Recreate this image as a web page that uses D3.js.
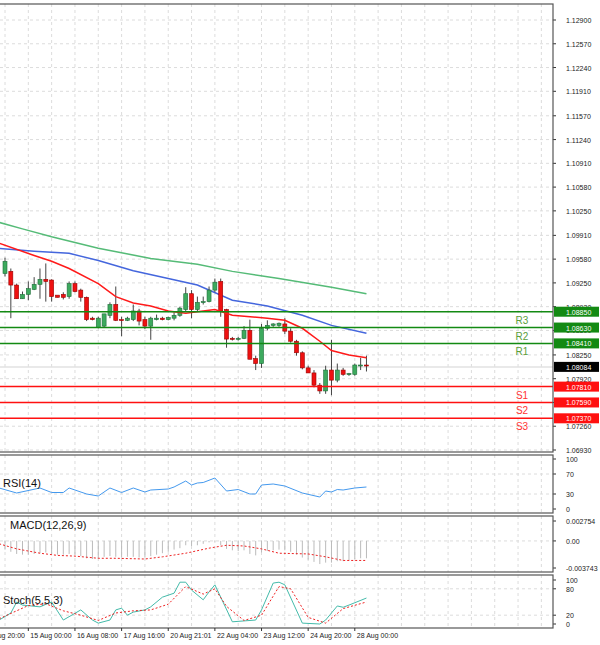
<!DOCTYPE html>
<html>
<head>
<meta charset="utf-8">
<script src="https://cdn.jsdelivr.net/npm/d3@7"></script>
<style>
  body { margin: 0; background: #fff; }
  text { font-family: "Liberation Sans", Arial, sans-serif; }
</style>
</head>
<body>
<script>
// candles (4h)
const open  = [1.0938,1.0941,1.0922,1.0903,1.0909,1.0916,1.0923,1.0930,1.0929,1.0908,1.0909,1.0906,1.0924,1.0915,1.0905,1.0876,1.0863,1.0865,1.0880,1.0895,1.0874,1.0873,1.0874,1.0886,1.0874,1.0865,1.0874,1.0876,1.0874,1.0876,1.0880,1.0888,1.0910,1.0888,1.0898,1.0899,1.0915,1.0927,1.0888,1.0848,1.0847,1.0848,1.0859,1.0820,1.0813,1.0862,1.0866,1.0866,1.0868,1.0858,1.0844,1.0828,1.0807,1.0800,1.0783,1.0775,1.0804,1.0790,1.0804,1.0798,1.0798,1.0811,1.0811];
const close = [1.0955,1.0922,1.0903,1.0909,1.0917,1.0923,1.0930,1.0927,1.0906,1.0905,1.0905,1.0924,1.0913,1.0905,1.0874,1.0874,1.0876,1.0882,1.0895,1.0873,1.0873,1.0876,1.0886,1.0872,1.0865,1.0876,1.0876,1.0874,1.0877,1.0880,1.0890,1.0910,1.0888,1.0898,1.0899,1.0915,1.0926,1.0886,1.0847,1.0847,1.0848,1.0859,1.0819,1.0813,1.0862,1.0866,1.0868,1.0869,1.0858,1.0844,1.0828,1.0807,1.0800,1.0783,1.0775,1.0804,1.0790,1.0804,1.0798,1.0799,1.0811,1.0811,1.0810];
const high  = [1.0960,1.0945,1.0924,1.0913,1.0927,1.0933,1.0945,1.0952,1.0930,1.0906,1.0912,1.0927,1.0927,1.0917,1.0906,1.0878,1.0878,1.0882,1.0898,1.0920,1.0878,1.0878,1.0895,1.0889,1.0878,1.0878,1.0881,1.0878,1.0878,1.0884,1.0892,1.0919,1.0915,1.0906,1.0906,1.0920,1.0931,1.0931,1.0889,1.0850,1.0850,1.0865,1.0874,1.0824,1.0868,1.0873,1.0869,1.0870,1.0876,1.0862,1.0846,1.0830,1.0810,1.0804,1.0786,1.0810,1.0846,1.0813,1.0807,1.0800,1.0813,1.0821,1.0824];
const low   = [1.0934,1.0876,1.0903,1.0903,1.0901,1.0915,1.0903,1.0899,1.0899,1.0905,1.0902,1.0903,1.0912,1.0899,1.0872,1.0873,1.0862,1.0863,1.0876,1.0872,1.0851,1.0872,1.0872,1.0866,1.0861,1.0846,1.0873,1.0873,1.0873,1.0873,1.0878,1.0886,1.0876,1.0886,1.0895,1.0898,1.0912,1.0878,1.0835,1.0845,1.0845,1.0847,1.0819,1.0804,1.0807,1.0859,1.0864,1.0864,1.0854,1.0842,1.0824,1.0805,1.0800,1.0780,1.0771,1.0771,1.0769,1.0787,1.0796,1.0796,1.0796,1.0804,1.0802];

const emaIdx = [-1,5,8,11,16,19,22,25,28,31,35,36,39,45,48,51,54,56,59,62];
const emaVal = [1.0980,1.0963,1.0955,1.0945,1.0924,1.0906,1.0897,1.0893,1.0886,1.0883,1.0887,1.0888,1.0880,1.0876,1.0873,1.0862,1.0844,1.0831,1.0825,1.0821];
const smaIdx = [-1,5,11,16,22,28,33,39,45,51,56,62];
const smaVal = [1.0973,1.0969,1.0966,1.0956,1.0942,1.0931,1.0922,1.0901,1.0893,1.0880,1.0866,1.0855];
const slowIdx = [-1,3,8,16,25,33,39,47,56,62];
const slowVal = [1.1009,1.1000,1.0989,1.0973,1.0959,1.0951,1.0941,1.0931,1.0919,1.0910];

const levelNames = ["R3","R2","R1","S1","S2","S3"];
const levelVals  = [1.08850,1.08630,1.08410,1.07810,1.07590,1.07370];
const lastPrice = 1.08084;
const priceTicks = [1.12900,1.12570,1.12240,1.11910,1.11570,1.11240,1.10910,1.10580,1.10250,1.09910,1.09580,1.09250,1.08920,1.08590,1.08250,1.07920,1.07590,1.07260,1.06930];

const rsiIdx = [-1,2,6,8,10,11,14,16,18,20,22,24,25,28,29,31,32,33,34,36,38,40,42,43,44,46,48,51,54,55,56,57,58,60,62];
const rsiVal = [42,32,42,33,33,42,30,26,42,33,42,34,38,40,44,56,48,52,53,62,36,39,30,30,48,50,46,32,24,36,34,39,38,42,44];

const macdHist = [-0.0012,-0.0015,-0.0018,-0.0019,-0.0019,-0.0018,-0.0017,-0.0016,-0.0018,-0.0019,-0.0019,
  -0.0018,-0.0019,-0.0021,-0.0024,-0.0025,-0.0024,-0.0022,-0.0021,-0.0022,-0.0023,
  -0.0022,-0.0022,-0.0023,-0.0023,-0.0021,-0.0019,-0.0017,-0.0015,-0.0012,-0.0010,
  -0.0006,-0.0007,-0.0006,-0.0004,-0.0002,-0.0001,-0.0006,-0.0011,-0.0013,-0.0014,
  -0.0013,-0.0018,-0.0020,-0.0016,-0.0014,-0.0013,-0.0012,-0.0013,-0.0015,-0.0019,
  -0.0023,-0.0026,-0.0029,-0.0032,-0.0030,-0.0030,-0.0028,-0.0028,-0.0027,-0.0025,-0.0024,-0.0024];
const sigIdx = [-1,2,6,9,12,16,19,24,27,31,35,38,41,44,47,52,55,58,62];
const sigVal = [-0.0004,-0.0011,-0.0017,-0.0020,-0.0021,-0.0024,-0.0024,-0.0025,-0.0022,-0.0017,-0.0010,-0.0006,-0.0007,-0.0011,-0.0017,-0.0018,-0.0022,-0.0027,-0.0027];

const kIdx = [-1,1,2,3,6,8,10,13,15,16,18,19,20,21,22,24,25,27,29,30,31,32,34,35,36,37,39,41,43,44,46,47,48,51,54,55,57,58,59,62];
const kVal = [9,25,50,43,39,50,9,32,9,2,9,32,36,20,27,32,39,61,70,95,95,77,55,73,89,61,5,7,9,32,93,95,89,2,0,9,41,38,43,59];
const dIdx = [-1,2,4,7,10,13,16,19,22,25,28,31,34,36,38,41,44,47,49,52,55,58,62];
const dVal = [12,30,42,46,30,20,8,25,30,32,45,85,68,80,40,8,20,85,80,15,2,35,50];

const timeIdx = [-4,4,12,20,28,36,44,52,60];
const timeLabels = ["14 Aug 20:00","15 Aug 00:00","16 Aug 08:00","17 Aug 16:00","20 Aug 21:01","22 Aug 04:00","23 Aug 12:00","24 Aug 20:00","28 Aug 00:00"];

const W = 600, H = 645, plotR = 553;
const svg = d3.select("body").append("svg").attr("width", W).attr("height", H);

const x = d3.scaleLinear().domain([0, 94]).range([5, 5 + 94 * 5.83]);
const gridIdx = d3.range(-4, 95, 4);

const panels = [
  { top: 4, bottom: 452 },
  { top: 455, bottom: 513 },
  { top: 516, bottom: 572 },
  { top: 575, bottom: 628 }
];

const yP = d3.scaleLinear().domain([1.06930, 1.12900]).range([450, 20]);
const yR = d3.scaleLinear().domain([0, 100]).range([509, 459]);
const yM = d3.scaleLinear().domain([-0.003743, 0.002754]).range([568, 521]);
const yS = d3.scaleLinear().domain([0, 100]).range([624, 580]);

panels.forEach((p, i) => {
  svg.append("clipPath").attr("id", "clip" + i)
    .append("rect").attr("x", 0).attr("y", p.top).attr("width", plotR).attr("height", p.bottom - p.top);
});

function grid(p, i, yVals, yScale) {
  const g = svg.append("g").attr("clip-path", `url(#clip${i})`)
    .attr("stroke", "#dcdcdc").attr("stroke-dasharray", "3,3");
  g.selectAll(".v").data(gridIdx).enter().append("line")
    .attr("x1", d => x(d)).attr("x2", d => x(d)).attr("y1", p.top).attr("y2", p.bottom);
  g.selectAll(".h").data(yVals).enter().append("line")
    .attr("x1", 0).attr("x2", plotR).attr("y1", d => yScale(d)).attr("y2", d => yScale(d));
}
grid(panels[0], 0, priceTicks, yP);
grid(panels[1], 1, [70, 30], yR);
grid(panels[2], 2, [0], yM);
grid(panels[3], 3, [80, 20], yS);

// right axes
function axisLabels(vals, yScale, fmt) {
  const g = svg.append("g");
  g.selectAll("line").data(vals).enter().append("line")
    .attr("x1", plotR).attr("x2", plotR + 3).attr("y1", d => yScale(d)).attr("y2", d => yScale(d))
    .attr("stroke", "#333");
  g.selectAll("text").data(vals).enter().append("text")
    .attr("x", plotR + 13).attr("y", d => yScale(d) + 3)
    .attr("font-size", 7).attr("fill", "#222").text(fmt);
}
axisLabels(priceTicks, yP, d => d.toFixed(5));
axisLabels([100, 70, 30, 0], yR, d => d);
axisLabels([0.002754, 0, -0.003743], yM, d => d === 0 ? "0.00" : d.toFixed(6));
axisLabels([100, 80, 20, 0], yS, d => d);

// main chart
const main = svg.append("g").attr("clip-path", "url(#clip0)");
const lineGen = (xs, ys, yScale) => d3.line().x((d, i) => x(xs[i])).y(d => yScale(d))(ys);

main.append("line").attr("x1", 0).attr("x2", plotR)
  .attr("y1", yP(lastPrice)).attr("y2", yP(lastPrice)).attr("stroke", "#e2e2e2").attr("stroke-width", 1.5);

main.append("path").attr("d", lineGen(slowIdx, slowVal, yP)).attr("fill", "none").attr("stroke", "#55bb77").attr("stroke-width", 1.5);
main.append("path").attr("d", lineGen(smaIdx, smaVal, yP)).attr("fill", "none").attr("stroke", "#4466dd").attr("stroke-width", 1.5);

const candles = d3.range(open.length);
main.selectAll(".wick").data(candles).enter().append("line")
  .attr("x1", i => x(i)).attr("x2", i => x(i))
  .attr("y1", i => yP(high[i])).attr("y2", i => yP(low[i]))
  .attr("stroke", "#444");
main.selectAll(".body").data(candles).enter().append("rect")
  .attr("x", i => x(i) - 2).attr("width", 4)
  .attr("y", i => yP(Math.max(open[i], close[i])))
  .attr("height", i => Math.max(1, Math.abs(yP(open[i]) - yP(close[i]))))
  .attr("fill", i => close[i] >= open[i] ? "#3daa5e" : "#ee1111")
  .attr("stroke", i => close[i] >= open[i] ? "#1f6e3a" : "#9a0000")
  .attr("stroke-width", 0.6);

main.append("path").attr("d", lineGen(emaIdx, emaVal, yP)).attr("fill", "none").attr("stroke", "#ff1a1a").attr("stroke-width", 1.5);

levelNames.forEach((n, i) => {
  const isR = n[0] === "R";
  const col = isR ? "#138a13" : "#ff1010";
  const yy = yP(levelVals[i]);
  svg.append("line").attr("x1", 0).attr("x2", plotR).attr("y1", yy).attr("y2", yy)
    .attr("stroke", col).attr("stroke-width", 1.5);
  svg.append("text").attr("x", 522).attr("y", yy + 12).attr("text-anchor", "middle")
    .attr("font-size", 10).attr("fill", isR ? "#5a9e3a" : "#ff3333").text(n);
  svg.append("rect").attr("x", plotR + 1).attr("y", yy - 5).attr("width", 45).attr("height", 10).attr("fill", col);
  svg.append("text").attr("x", plotR + 13).attr("y", yy + 3).attr("font-size", 7).attr("fill", "#fff").text(levelVals[i].toFixed(5));
});
svg.append("rect").attr("x", plotR + 1).attr("y", yP(lastPrice) - 5).attr("width", 45).attr("height", 10).attr("fill", "#000");
svg.append("text").attr("x", plotR + 13).attr("y", yP(lastPrice) + 3).attr("font-size", 7).attr("fill", "#fff").text(lastPrice.toFixed(5));

// RSI
const rsiG = svg.append("g").attr("clip-path", "url(#clip1)");
rsiG.append("path").attr("d", lineGen(rsiIdx, rsiVal, yR)).attr("fill", "none").attr("stroke", "#4499ee").attr("stroke-width", 1);
svg.append("text").attr("x", 3).attr("y", 487).attr("font-size", 11).attr("fill", "#111").text("RSI(14)");

// MACD
const macdG = svg.append("g").attr("clip-path", "url(#clip2)");
macdG.selectAll("line").data(macdHist).enter().append("line")
  .attr("x1", (d, i) => x(i)).attr("x2", (d, i) => x(i))
  .attr("y1", yM(0)).attr("y2", d => yM(d)).attr("stroke", "#bbbbbb").attr("stroke-width", 1);
macdG.append("path").attr("d", lineGen(sigIdx, sigVal, yM)).attr("fill", "none")
  .attr("stroke", "#ee2222").attr("stroke-width", 1).attr("stroke-dasharray", "2,2");
svg.append("text").attr("x", 10).attr("y", 529).attr("font-size", 11).attr("fill", "#111").text("MACD(12,26,9)");

// Stochastic
const stG = svg.append("g").attr("clip-path", "url(#clip3)");
stG.append("path").attr("d", lineGen(kIdx, kVal, yS)).attr("fill", "none").attr("stroke", "#44bbaa").attr("stroke-width", 1);
stG.append("path").attr("d", lineGen(dIdx, dVal, yS)).attr("fill", "none")
  .attr("stroke", "#ee2222").attr("stroke-width", 1).attr("stroke-dasharray", "2,2");
svg.append("text").attr("x", 3).attr("y", 604).attr("font-size", 11).attr("fill", "#111").text("Stoch(5,5,3)");

// panel borders
panels.forEach(p => {
  svg.append("rect").attr("x", -1).attr("y", p.top).attr("width", plotR + 1).attr("height", p.bottom - p.top)
    .attr("fill", "none").attr("stroke", "#555").attr("stroke-width", 1.2);
});

// time axis
svg.selectAll(".tt").data(timeIdx).enter().append("line")
  .attr("x1", d => x(d)).attr("x2", d => x(d)).attr("y1", 628).attr("y2", 631).attr("stroke", "#333");
svg.selectAll(".tl").data(timeIdx).enter().append("text")
  .attr("x", d => x(d) + 2).attr("y", 638).attr("font-size", 7).attr("fill", "#222")
  .text((d, i) => timeLabels[i]);
</script>
</body>
</html>
